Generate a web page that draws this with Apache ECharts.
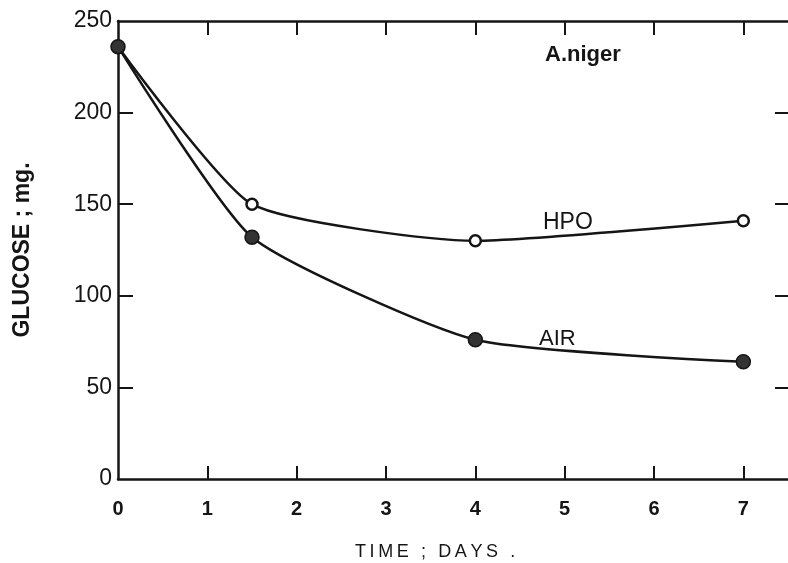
<!DOCTYPE html>
<html>
<head>
<meta charset="utf-8">
<script src="https://cdn.jsdelivr.net/npm/echarts@6/dist/echarts.min.js"></script>
<style>
  html, body { margin: 0; padding: 0; background: #fff; }
  #chart { width: 788px; height: 563px; }
</style>
</head>
<body>
<div id="chart"></div>
<script>
// values
var days = [0, 1.5, 4, 7];
var hpo = [236, 150, 130, 141];
var air = [236, 132, 76, 64];
var xLabels = [0, 1, 2, 3, 4, 5, 6, 7];
var xTicks = [1, 2, 3, 4, 5, 6, 7];
var yTicks = [0, 50, 100, 150, 200, 250];
var inkColor = "#151515";

(function () {
  var myechart = echarts.init(document.getElementById("chart"));
  var font = "Liberation Sans";
  var thin = "\u2009";

  function pairs(ys) {
    return days.map(function (d, i) {
      return [d, ys[i]];
    });
  }

  var lineAxis = { show: true, onZero: false, lineStyle: { color: inkColor, width: 2.5 } };

  option = {
    backgroundColor: "#fff",
    animation: false,
    grid: { left: 118, right: 0, top: 21, bottom: 84 },
    xAxis: [
      {
        type: "value",
        position: "bottom",
        min: 0,
        max: 7.5,
        axisLine: lineAxis,
        axisTick: {
          inside: true,
          length: 13,
          customValues: xTicks,
          lineStyle: { color: inkColor, width: 2 },
        },
        axisLabel: {
          color: inkColor,
          fontFamily: font,
          fontSize: 20,
          fontWeight: "bold",
          margin: 20,
          customValues: xLabels,
        },
        splitLine: { show: false },
      },
      {
        type: "value",
        position: "top",
        min: 0,
        max: 7.5,
        axisLine: lineAxis,
        axisTick: {
          inside: true,
          length: 14,
          customValues: xTicks,
          lineStyle: { color: inkColor, width: 2 },
        },
        axisLabel: { show: false },
        splitLine: { show: false },
      },
    ],
    yAxis: [
      {
        type: "value",
        position: "left",
        min: 0,
        max: 250,
        name: "GLUCOSE ; mg.",
        nameLocation: "middle",
        nameGap: 84,
        nameTextStyle: {
          color: inkColor,
          fontFamily: font,
          fontSize: 23,
          fontWeight: "bold",
        },
        axisLine: lineAxis,
        axisTick: {
          inside: true,
          length: 15,
          customValues: yTicks.slice(1, 5),
          lineStyle: { color: inkColor, width: 2 },
        },
        axisLabel: {
          color: inkColor,
          fontFamily: font,
          fontSize: 23,
          margin: 6,
          customValues: yTicks,
        },
        splitLine: { show: false },
      },
      {
        type: "value",
        position: "right",
        min: 0,
        max: 250,
        axisLine: { show: false, onZero: false },
        axisTick: {
          show: true,
          inside: true,
          length: 13,
          customValues: yTicks.slice(1, 5),
          lineStyle: { color: inkColor, width: 2 },
        },
        axisLabel: { show: false },
        splitLine: { show: false },
      },
    ],
    series: [
      {
        name: "HPO",
        type: "line",
        smooth: 0.18,
        data: pairs(hpo),
        symbol: "circle",
        symbolSize: 11,
        lineStyle: { color: inkColor, width: 2.5 },
        itemStyle: { color: "#fff", borderColor: inkColor, borderWidth: 2.5 },
        z: 3,
      },
      {
        name: "AIR",
        type: "line",
        smooth: 0.18,
        data: pairs(air),
        symbol: "circle",
        symbolSize: 14,
        lineStyle: { color: inkColor, width: 2.5 },
        itemStyle: { color: "#333", borderColor: inkColor, borderWidth: 1.5 },
        z: 4,
      },
    ],
    graphic: [
      {
        type: "text",
        left: 545,
        top: 44,
        style: { text: "A.niger", fill: inkColor, font: "bold 22px " + font },
      },
      {
        type: "text",
        left: 543,
        top: 211,
        style: { text: "HPO", fill: inkColor, font: "23px " + font },
      },
      {
        type: "text",
        left: 539,
        top: 328,
        style: { text: "AIR", fill: inkColor, font: "22px " + font },
      },
      {
        type: "text",
        left: 355,
        top: 543,
        style: {
          text: "TIME ; DAYS .".split("").join(thin),
          fill: inkColor,
          font: "18px " + font,
        },
      },
    ],
  };

  myechart.setOption(option);
  window.addEventListener("resize", function () {
    myechart.resize();
  });
})();
</script>
</body>
</html>
